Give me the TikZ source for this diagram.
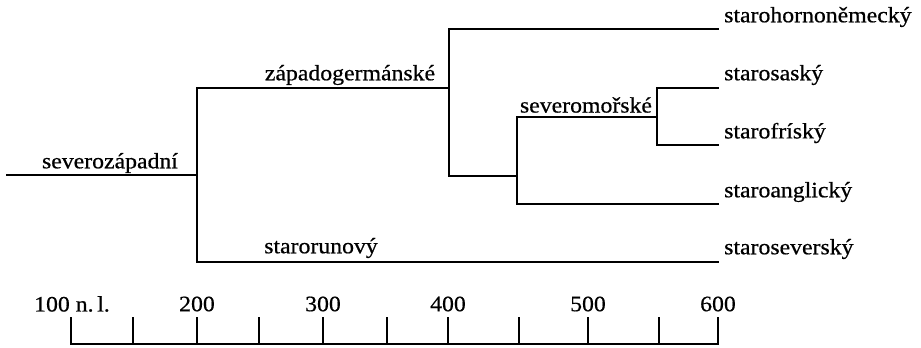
\documentclass[tikz,border=0pt]{standalone}
\usepackage{fontspec}
\setmainfont{Liberation Serif}[FakeStretch=1.08,FakeBold=0.6]
\begin{document}
\begin{tikzpicture}[x=1pt,y=-1pt,
  tree/.style={line width=1.7pt,line join=miter,line cap=rect},
  lbl/.style={font=\fontsize{22}{24}\selectfont,inner sep=0pt},
  leaf/.style={lbl,anchor=west}]
\useasboundingbox (0,0) rectangle (921,348);
% branch coordinates
\coordinate (r0) at (7,175);
\coordinate (r1) at (197,175);
\coordinate (wT) at (197,88);
\coordinate (nB) at (197,262);
\coordinate (w1) at (449,88);
\coordinate (ohgT) at (449,29);
\coordinate (wB) at (449,176);
\coordinate (nsJ) at (517,176);
\coordinate (nsT) at (517,117);
\coordinate (nsB) at (517,204);
\coordinate (ns1) at (657,117);
\coordinate (osT) at (657,88);
\coordinate (ofB) at (657,145);
\coordinate (e1) at (718,29);
\coordinate (e2) at (718,88);
\coordinate (e3) at (718,145);
\coordinate (e4) at (718,204);
\coordinate (e5) at (718,262);
% tree
\draw[tree] (r0) -- (r1);
\draw[tree] (wT) -- (nB);
\draw[tree] (wT) -- (w1);
\draw[tree] (ohgT) -- (wB);
\draw[tree] (ohgT) -- (e1);
\draw[tree] (wB) -- (nsJ);
\draw[tree] (nsT) -- (nsB);
\draw[tree] (nsT) -- (ns1);
\draw[tree] (osT) -- (ofB);
\draw[tree] (osT) -- (e2);
\draw[tree] (ofB) -- (e3);
\draw[tree] (nsB) -- (e4);
\draw[tree] (nB) -- (e5);
% internal labels
\node[lbl] (sz) at (110,163) {severozápadní};
\node[lbl] (zg) at (350,75) {západogermánské};
\node[lbl] (sm) at (586,105) {severomořské};
\node[lbl] (sr) at (321,248) {starorunový};
% leaves
\node[leaf] (l1) at (724,17) {starohornoněmecký};
\node[leaf] (l2) at (724,75) {starosaský};
\node[leaf] (l3) at (724,133) {starofríský};
\node[leaf] (l4) at (724,192) {staroanglický};
\node[leaf] (l5) at (724,249) {staroseverský};
% axis
\coordinate (a0) at (71,344);
\coordinate (a10) at (718,344);
\draw[tree] (a0) -- (a10);
\foreach \n/\x in {0/71,1/133,2/197,3/259,4/323,5/387,6/448,7/519,8/588,9/659,10/718}{
  \coordinate (t\n) at (\x,318);
  \draw[tree] (t\n) -- (\x,344);
}
\node[lbl] (y100) at (72,304) {100 n.\,l.};
\node[lbl] (y200) at (197,304) {200};
\node[lbl] (y300) at (323,304) {300};
\node[lbl] (y400) at (448,304) {400};
\node[lbl] (y500) at (588,304) {500};
\node[lbl] (y600) at (718,304) {600};
\end{tikzpicture}
\end{document}
